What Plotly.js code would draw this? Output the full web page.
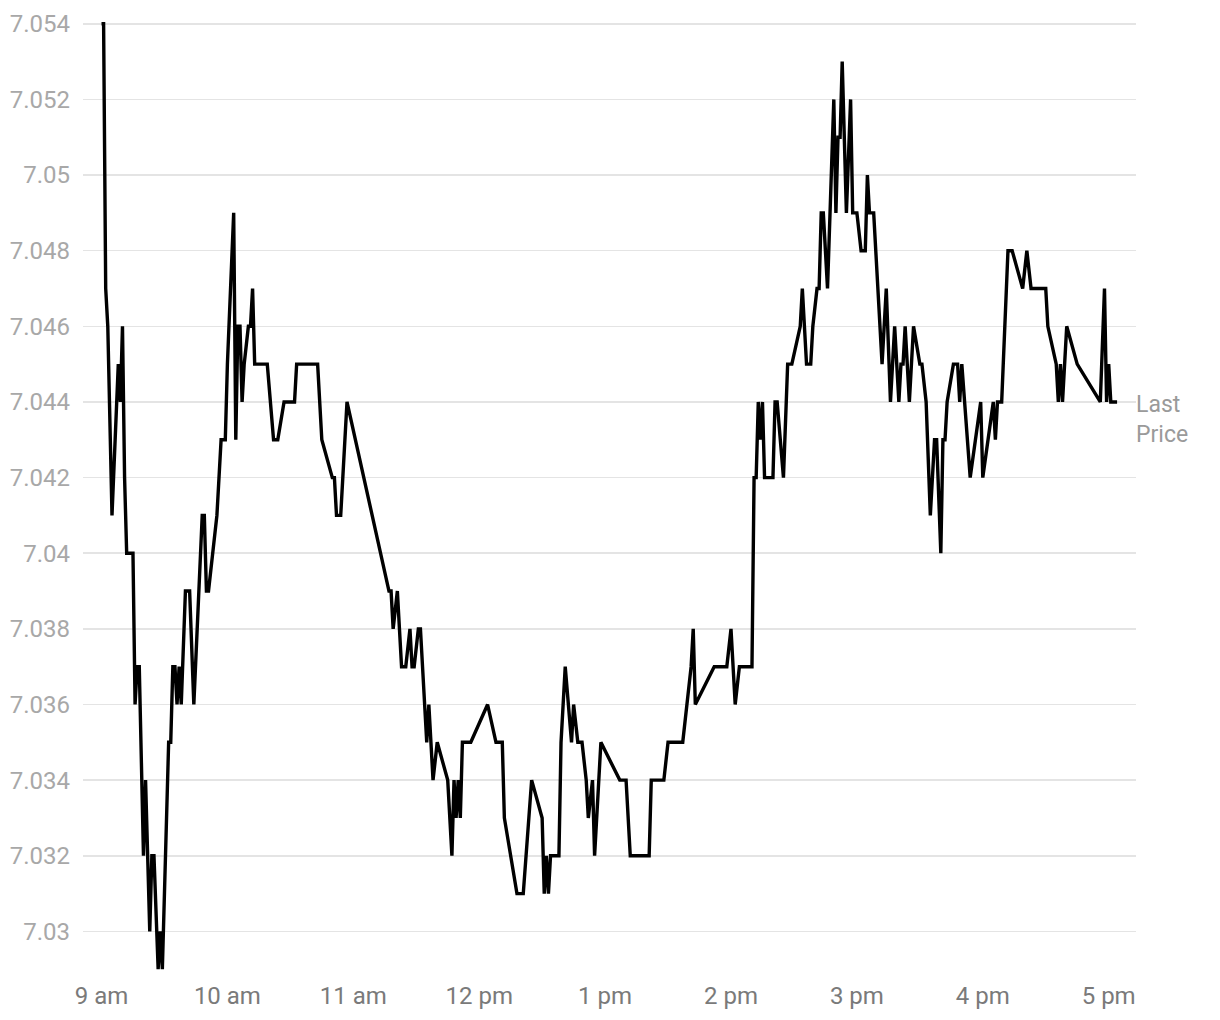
<!DOCTYPE html>
<html>
<head>
<meta charset="utf-8">
<script src="https://cdn.plot.ly/plotly-3.0.1.min.js"></script>
<style>
  html, body { margin: 0; padding: 0; background: #ffffff; }
  #chart { width: 1220px; height: 1020px; }
</style>
</head>
<body>
<div id="chart"></div>
<script>
// ---- data ----
const tradeDate = "2024-01-02";
const times = [
  "09:00","09:01","09:02","09:03","09:05","09:08","09:09","09:10","09:11","09:12",
  "09:15","09:16","09:17","09:18","09:20","09:21","09:23","09:24","09:25","09:27",
  "09:28","09:29","09:32","09:33","09:34","09:35","09:36","09:37","09:38","09:40",
  "09:42","09:44","09:48","09:49","09:50","09:51","09:55","09:57","09:59","10:00",
  "10:03","10:04","10:05","10:06","10:07","10:08","10:10","10:11","10:12","10:13",
  "10:19","10:22","10:24","10:27","10:32","10:33","10:43","10:45","10:50","10:51",
  "10:52","10:54","10:57","11:17","11:18","11:19","11:21","11:23","11:25","11:27",
  "11:28","11:29","11:31","11:32","11:35","11:36","11:38","11:40","11:45","11:47",
  "11:48","11:49","11:50","11:51","11:52","11:56","12:04","12:08","12:11","12:12",
  "12:18","12:21","12:25","12:30","12:31","12:32","12:33","12:34","12:38","12:39",
  "12:41","12:44","12:45","12:47","12:49","12:51","12:52","12:54","12:55","12:58",
  "13:07","13:10","13:12","13:21","13:22","13:28","13:30","13:37","13:41","13:42",
  "13:43","13:52","13:58","14:00","14:02","14:04","14:10","14:11","14:12","14:13",
  "14:14","14:15","14:16","14:20","14:21","14:22","14:25","14:27","14:29","14:33",
  "14:34","14:36","14:38","14:39","14:41","14:42","14:43","14:44","14:46","14:48",
  "14:49","14:50","14:51","14:52","14:53","14:55","14:57","14:58","15:00","15:02",
  "15:04","15:05","15:06","15:08","15:12","15:14","15:16","15:18","15:20","15:21",
  "15:22","15:23","15:25","15:27","15:30","15:31","15:33","15:35","15:37","15:38",
  "15:40","15:41","15:42","15:43","15:46","15:48","15:49","15:50","15:54","15:59",
  "16:00","16:05","16:06","16:07","16:09","16:12","16:14","16:19","16:21","16:23",
  "16:30","16:31","16:35","16:36","16:37","16:38","16:40","16:45","16:56","16:58",
  "16:59","17:00","17:01","17:04"
];
const lastPrice = [
  7.054,7.054,7.047,7.046,7.041,7.045,7.044,7.046,7.042,7.040,
  7.040,7.036,7.037,7.037,7.032,7.034,7.030,7.032,7.032,7.029,
  7.030,7.029,7.035,7.035,7.037,7.037,7.036,7.037,7.036,7.039,
  7.039,7.036,7.041,7.041,7.039,7.039,7.041,7.043,7.043,7.045,
  7.049,7.043,7.046,7.046,7.044,7.045,7.046,7.046,7.047,7.045,
  7.045,7.043,7.043,7.044,7.044,7.045,7.045,7.043,7.042,7.042,
  7.041,7.041,7.044,7.039,7.039,7.038,7.039,7.037,7.037,7.038,
  7.037,7.037,7.038,7.038,7.035,7.036,7.034,7.035,7.034,7.032,
  7.034,7.033,7.034,7.033,7.035,7.035,7.036,7.035,7.035,7.033,
  7.031,7.031,7.034,7.033,7.031,7.032,7.031,7.032,7.032,7.035,
  7.037,7.035,7.036,7.035,7.035,7.034,7.033,7.034,7.032,7.035,
  7.034,7.034,7.032,7.032,7.034,7.034,7.035,7.035,7.037,7.038,
  7.036,7.037,7.037,7.038,7.036,7.037,7.037,7.042,7.042,7.044,
  7.043,7.044,7.042,7.042,7.044,7.044,7.042,7.045,7.045,7.046,
  7.047,7.045,7.045,7.046,7.047,7.047,7.049,7.049,7.047,7.050,
  7.052,7.049,7.051,7.051,7.053,7.049,7.052,7.049,7.049,7.048,
  7.048,7.050,7.049,7.049,7.045,7.047,7.044,7.046,7.044,7.045,
  7.045,7.046,7.044,7.046,7.045,7.045,7.044,7.041,7.043,7.043,
  7.040,7.043,7.043,7.044,7.045,7.045,7.044,7.045,7.042,7.044,
  7.042,7.044,7.043,7.044,7.044,7.048,7.048,7.047,7.048,7.047,
  7.047,7.046,7.045,7.044,7.045,7.044,7.046,7.045,7.044,7.047,
  7.044,7.045,7.044,7.044
];
const xTickTimes  = ["09:00","10:00","11:00","12:00","13:00","14:00","15:00","16:00","17:00"];
const xTickLabels = ["9 am","10 am","11 am","12 pm","1 pm","2 pm","3 pm","4 pm","5 pm"];
const yTickValues = [7.030,7.032,7.034,7.036,7.038,7.040,7.042,7.044,7.046,7.048,7.050,7.052,7.054];
const yTickLabels = ["7.03","7.032","7.034","7.036","7.038","7.04","7.042","7.044","7.046","7.048","7.05","7.052","7.054"];
const seriesLabel = "Last<br>Price";

// ---- build ----
const stamp = t => tradeDate + " " + t;
const xs = times.map(stamp);

const trace = {
  type: "scatter",
  mode: "lines",
  x: xs,
  y: lastPrice,
  line: { color: "#000000", width: 3.4, shape: "linear" },
  hoverinfo: "x+y"
};

const layout = {
  width: 1220,
  height: 1020,
  margin: { l: 83, r: 84, t: 20, b: 47, pad: 0 },
  paper_bgcolor: "#ffffff",
  plot_bgcolor: "#ffffff",
  showlegend: false,
  font: { family: "Roboto, 'Open Sans', sans-serif", size: 24, color: "#999999" },
  xaxis: {
    type: "date",
    range: [stamp("08:51:11"), stamp("17:13:01")],
    tickvals: xTickTimes.map(stamp),
    ticktext: xTickLabels,
    showgrid: false,
    zeroline: false,
    showline: false,
    ticks: "",
    ticklabelstandoff: 6,
    tickfont: { family: "Roboto, sans-serif", size: 24, color: "#7a7a7a" }
  },
  yaxis: {
    range: [7.0289, 7.0541],
    tickvals: yTickValues,
    ticktext: yTickLabels,
    showgrid: true,
    gridcolor: "#e4e4e4",
    gridwidth: 1.5,
    zeroline: false,
    showline: false,
    ticks: "",
    ticklabelstandoff: 12,
    tickfont: { family: "Roboto, sans-serif", size: 24, color: "#a8a8a8" }
  },
  annotations: [{
    xref: "paper", yref: "y",
    x: 1, y: lastPrice[lastPrice.length - 1],
    xanchor: "left", yanchor: "middle",
    yshift: -18, xshift: -2,
    text: seriesLabel,
    showarrow: false,
    align: "left",
    font: { family: "Roboto, sans-serif", size: 23, color: "#9a9a9a" }
  }]
};

Plotly.newPlot("chart", [trace], layout, { displayModeBar: false, staticPlot: true });
</script>
</body>
</html>
